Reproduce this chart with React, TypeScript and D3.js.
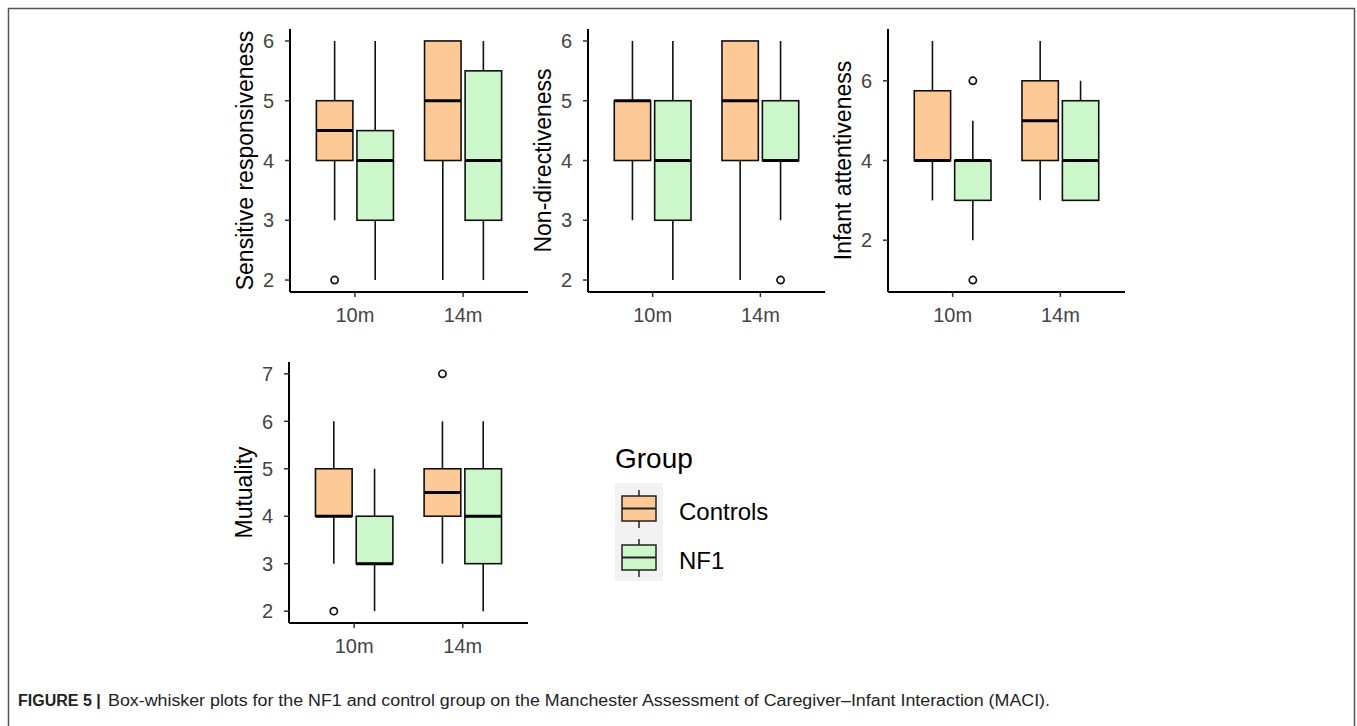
import React from 'react';
import * as d3 from 'd3';

// categories
const timepoints = ['10m', '14m'];
const groups = ['Controls', 'NF1'];
const measures = ['Sensitive responsiveness', 'Non-directiveness', 'Infant attentiveness', 'Mutuality'];

// box stats per measure: [lower whisker, q1, median, q3, upper whisker]
// order: 10m Controls, 10m NF1, 14m Controls, 14m NF1
const sensitiveStats = [
  [3, 4, 4.5, 5, 6],
  [2, 3, 4, 4.5, 6],
  [2, 4, 5, 6, 6],
  [2, 3, 4, 5.5, 6],
];
const sensitiveOutliers = [[2], [], [], []];

const nondirectStats = [
  [3, 4, 5, 5, 6],
  [2, 3, 4, 5, 6],
  [2, 4, 5, 6, 6],
  [3, 4, 4, 5, 6],
];
const nondirectOutliers = [[], [], [], [2]];

const attentiveStats = [
  [3, 4, 4, 5.75, 7],
  [2, 3, 4, 4, 5],
  [3, 4, 5, 6, 7],
  [3, 3, 4, 5.5, 6],
];
const attentiveOutliers = [[], [6, 1], [], []];

const mutualityStats = [
  [3, 4, 4, 5, 6],
  [2, 3, 3, 4, 5],
  [3, 4, 4.5, 5, 6],
  [2, 3, 4, 5, 6],
];
const mutualityOutliers = [[2], [], [7], []];

// tick labels
const sensitiveTicks = [2, 3, 4, 5, 6];
const nondirectTicks = [2, 3, 4, 5, 6];
const attentiveTicks = [2, 4, 6];
const mutualityTicks = [2, 3, 4, 5, 6, 7];

const caption =
  'Box-whisker plots for the NF1 and control group on the Manchester Assessment of Caregiver\u2013Infant Interaction (MACI).';

const fills: Record<string, string> = { Controls: '#FDC996', NF1: '#CBF7CB' };
const FONT = '"Liberation Sans", Arial, sans-serif';

const panelData = [
  { stats: sensitiveStats, outliers: sensitiveOutliers, ticks: sensitiveTicks },
  { stats: nondirectStats, outliers: nondirectOutliers, ticks: nondirectTicks },
  { stats: attentiveStats, outliers: attentiveOutliers, ticks: attentiveTicks },
  { stats: mutualityStats, outliers: mutualityOutliers, ticks: mutualityTicks },
];

// panel frames in page pixels
const frames = [
  { left: 290, right: 528, top: 29, bottom: 292 },
  { left: 588, right: 825, top: 29, bottom: 292 },
  { left: 888, right: 1125, top: 29, bottom: 292 },
  { left: 289, right: 528, top: 362, bottom: 623 },
];

const BoxPanel = ({ idx }: { idx: number }) => {
  const { stats, outliers, ticks } = panelData[idx];
  const f = frames[idx];
  const all = stats.flat().concat(outliers.flat());
  const [lo, hi] = d3.extent(all) as [number, number];
  const pad = (hi - lo) * 0.05;
  const y = d3.scaleLinear().domain([lo - pad, hi + pad]).range([f.bottom, f.top]);
  const x = d3.scaleLinear().domain([0.4, 2.6]).range([f.left, f.right]);
  const unit = x(1) - x(0);
  const boxW = 0.3375 * unit;

  const boxes = stats.map((s, i) => {
    const t = Math.floor(i / 2);
    const g = i % 2;
    const cx = x(t + 1) + (g === 0 ? -0.1875 : 0.1875) * unit;
    return { s, cx, group: groups[g], out: outliers[i] };
  });

  return (
    <g>
      {boxes.map((b, i) => (
        <g key={i}>
          <line x1={b.cx} x2={b.cx} y1={y(b.s[0])} y2={y(b.s[1])} stroke="#111" strokeWidth={1.6} />
          <line x1={b.cx} x2={b.cx} y1={y(b.s[3])} y2={y(b.s[4])} stroke="#111" strokeWidth={1.6} />
          <rect
            x={b.cx - boxW / 2}
            y={y(b.s[3])}
            width={boxW}
            height={y(b.s[1]) - y(b.s[3])}
            fill={fills[b.group]}
            stroke="#111"
            strokeWidth={1.6}
          />
          <line x1={b.cx - boxW / 2} x2={b.cx + boxW / 2} y1={y(b.s[2])} y2={y(b.s[2])} stroke="#000" strokeWidth={3} />
          {b.out.map((o, j) => (
            <circle key={j} cx={b.cx} cy={y(o)} r={3.6} fill="none" stroke="#111" strokeWidth={1.7} />
          ))}
        </g>
      ))}
      {/* y axis */}
      <line x1={f.left} x2={f.left} y1={f.top} y2={f.bottom} stroke="#000" strokeWidth={2} />
      {ticks.map((t) => (
        <g key={t}>
          <line x1={f.left - 5} x2={f.left} y1={y(t)} y2={y(t)} stroke="#333" strokeWidth={1.5} />
          <text x={f.left - 16} y={y(t)} dy="0.36em" textAnchor="end" fontSize={20} fill="#444" fontFamily={FONT}>
            {t}
          </text>
        </g>
      ))}
      {/* x axis */}
      <line x1={f.left} x2={f.right} y1={f.bottom} y2={f.bottom} stroke="#000" strokeWidth={2} />
      {timepoints.map((tp, i) => (
        <g key={tp}>
          <line x1={x(i + 1)} x2={x(i + 1)} y1={f.bottom} y2={f.bottom + 5} stroke="#333" strokeWidth={1.5} />
          <text x={x(i + 1)} y={f.bottom + 30} textAnchor="middle" fontSize={20} fill="#444" fontFamily={FONT}>
            {tp}
          </text>
        </g>
      ))}
      <text
        transform={`translate(${f.left - 37},${(f.top + f.bottom) / 2}) rotate(-90)`}
        textAnchor="middle"
        fontSize={23}
        fill="#000"
        fontFamily={FONT}
      >
        {measures[idx]}
      </text>
    </g>
  );
};

const Legend = () => {
  const keyX = 615;
  const keyY = 483;
  const keyW = 48;
  const keyH = 49;
  return (
    <g fontFamily={FONT}>
      <text x={keyX} y={468} fontSize={28} fill="#000">
        Group
      </text>
      {groups.map((g, i) => {
        const top = keyY + i * keyH;
        const cx = keyX + keyW / 2;
        return (
          <g key={g}>
            <rect x={keyX} y={top} width={keyW} height={keyH} fill="#F2F2F2" />
            <line x1={cx} x2={cx} y1={top + 7} y2={top + 45} stroke="#222" strokeWidth={1.5} />
            <rect x={keyX + 7} y={top + 13} width={keyW - 14} height={25} fill={fills[g]} stroke="#222" strokeWidth={1.5} />
            <line x1={keyX + 7} x2={keyX + keyW - 7} y1={top + 25.5} y2={top + 25.5} stroke="#222" strokeWidth={2} />
            <text x={679} y={top + 37} fontSize={24} fill="#000">
              {g}
            </text>
          </g>
        );
      })}
    </g>
  );
};

export default function App() {
  return (
    <svg
      width={1357}
      height={726}
      style={{ position: 'absolute', left: 0, top: 0, background: '#fff' }}
    >
      <rect width={1357} height={726} fill="#fff" />
      <path d="M8.5,726 V8.5 H1354.5 V726" fill="none" stroke="#555" strokeWidth={1.5} />
      {panelData.map((_, i) => (
        <BoxPanel key={i} idx={i} />
      ))}
      <Legend />
      <text x={18} y={706} fontSize={16} fontFamily={FONT} fill="#222">
        <tspan fontWeight="bold">FIGURE 5 </tspan>
        <tspan fontWeight="bold">|</tspan>
      </text>
      <text x={108} y={706} fontSize={16} fontFamily={FONT} fill="#222" textLength={942} lengthAdjust="spacingAndGlyphs">
        {caption}
      </text>
    </svg>
  );
}
